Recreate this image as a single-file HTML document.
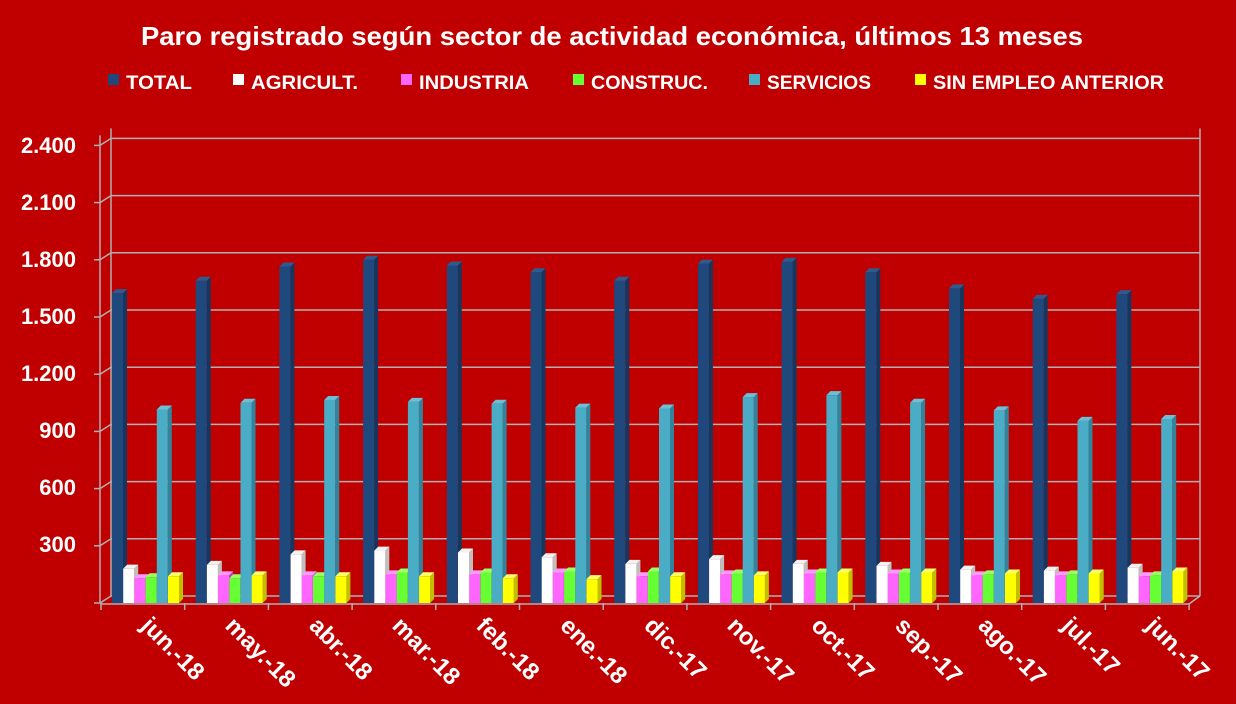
<!DOCTYPE html>
<html><head><meta charset="utf-8"><style>
html,body{margin:0;padding:0;background:#c00000;}
svg{display:block;font-family:"Liberation Sans",sans-serif;font-weight:bold;}
</style></head><body>
<svg id="s" width="1236" height="704" viewBox="0 0 1236 704">
<rect width="1236" height="704" fill="#c00000"/>
<text x="141" y="45" fill="#fff" font-size="26" textLength="942" lengthAdjust="spacingAndGlyphs">Paro registrado según sector de actividad económica, últimos 13 meses</text>
<g font-size="19" fill="#fff">
<rect x="108" y="74" width="11" height="11" fill="#1f497d"/><text x="126" y="89" textLength="66" lengthAdjust="spacingAndGlyphs">TOTAL</text>
<rect x="233" y="74" width="11" height="11" fill="#fff"/><text x="251" y="89" textLength="107" lengthAdjust="spacingAndGlyphs">AGRICULT.</text>
<rect x="401" y="74" width="11" height="11" fill="#ff66ff"/><text x="419" y="89" textLength="110" lengthAdjust="spacingAndGlyphs">INDUSTRIA</text>
<rect x="573" y="74" width="11" height="11" fill="#66ff33"/><text x="591" y="89" textLength="117" lengthAdjust="spacingAndGlyphs">CONSTRUC.</text>
<rect x="749" y="74" width="11" height="11" fill="#4bacc6"/><text x="767" y="89" textLength="104" lengthAdjust="spacingAndGlyphs">SERVICIOS</text>
<rect x="915" y="74" width="11" height="11" fill="#ffff00"/><text x="933" y="89" textLength="231" lengthAdjust="spacingAndGlyphs">SIN EMPLEO ANTERIOR</text>
</g>
<g id="grid" stroke="#b0b0b0" stroke-width="1.5" fill="none"></g>
<g font-size="22" fill="#fff" text-anchor="end">
<text x="76" y="153">2.400</text><text x="76" y="210">2.100</text><text x="76" y="267">1.800</text>
<text x="76" y="324">1.500</text><text x="76" y="381">1.200</text><text x="76" y="438">900</text>
<text x="76" y="495">600</text><text x="76" y="552">300</text>
</g>
<g id="bars"></g>
<g font-size="24" fill="#fff">
<text transform="translate(140,627) rotate(45)">jun.-18</text>
<text transform="translate(224,627) rotate(45)">may.-18</text>
<text transform="translate(308,627) rotate(45)">abr.-18</text>
<text transform="translate(391,627) rotate(45)">mar.-18</text>
<text transform="translate(475,627) rotate(45)">feb.-18</text>
<text transform="translate(559,627) rotate(45)">ene.-18</text>
<text transform="translate(643,627) rotate(45)">dic.-17</text>
<text transform="translate(726,627) rotate(45)">nov.-17</text>
<text transform="translate(810,627) rotate(45)">oct.-17</text>
<text transform="translate(894,627) rotate(45)">sep.-17</text>
<text transform="translate(977,627) rotate(45)">ago.-17</text>
<text transform="translate(1061,627) rotate(45)">jul.-17</text>
<text transform="translate(1145,627) rotate(45)">jun.-17</text>
</g>
</svg>
<script>
var NS="http://www.w3.org/2000/svg";
function el(p,t,a){var e=document.createElementNS(NS,t);for(var k in a)e.setAttribute(k,a[k]);p.appendChild(e);return e;}
var g=document.getElementById("grid");
var y0=603,k=57.2/300,dx=11,dy=-7;
for(var i=0;i<=8;i++){var y=y0-i*57.2;
 el(g,"line",{x1:100,y1:y,x2:100+dx,y2:y+dy});
 el(g,"line",{x1:100+dx,y1:y+dy,x2:1200,y2:y+dy});
 el(g,"line",{x1:94,y1:y,x2:100,y2:y});}
el(g,"line",{x1:100,y1:y0,x2:100,y2:y0-8*57.2-10});
el(g,"line",{x1:100+dx,y1:y0+dy,x2:100+dx,y2:y0-8*57.2+dy-10});
el(g,"line",{x1:1200,y1:y0+dy,x2:1200,y2:y0-8*57.2+dy-10});
el(g,"line",{x1:100,y1:y0+1,x2:1189,y2:y0+1});
el(g,"line",{x1:1189,y1:y0+1,x2:1200,y2:y0+dy});
for(var j=0;j<=13;j++){var x=101+j*83.7;el(g,"line",{x1:x,y1:y0,x2:x,y2:y0+7});}
var D=[[1625,1690,1765,1800,1770,1735,1690,1780,1790,1735,1650,1595,1620],
[180,200,255,275,265,240,205,230,205,195,175,170,185],
[130,145,145,150,150,160,140,150,155,155,145,145,140],
[135,130,140,160,160,165,165,155,160,160,150,150,145],
[1015,1050,1065,1055,1045,1025,1020,1080,1090,1050,1010,955,965],
[140,145,140,140,130,125,140,145,160,160,155,155,165]];
var C=[["#1f497d","#2f5a8f","#17365d"],["#ffffff","#f2f2f2","#bfbfbf"],["#ff66ff","#ff99ff","#cc33cc"],
["#66ff33","#99ff66","#44bb22"],["#4bacc6","#6cc0d6","#31849b"],["#ffff00","#ffff66","#c0c000"]];
var b=document.getElementById("bars");
for(var m=0;m<13;m++){for(var s=0;s<6;s++){
 var x=112+m*83.7+s*11.2,w=11,h=D[s][m]*k,yt=y0-h,d=4;
 el(b,"polygon",{points:(x+w)+","+yt+" "+(x+w+d)+","+(yt-d)+" "+(x+w+d)+","+(y0-d)+" "+(x+w)+","+y0,fill:C[s][2]});
 el(b,"polygon",{points:x+","+yt+" "+(x+d)+","+(yt-d)+" "+(x+w+d)+","+(yt-d)+" "+(x+w)+","+yt,fill:C[s][1]});
 el(b,"rect",{x:x,y:yt,width:w,height:h,fill:C[s][0]});
}}
</script>
</body></html>
